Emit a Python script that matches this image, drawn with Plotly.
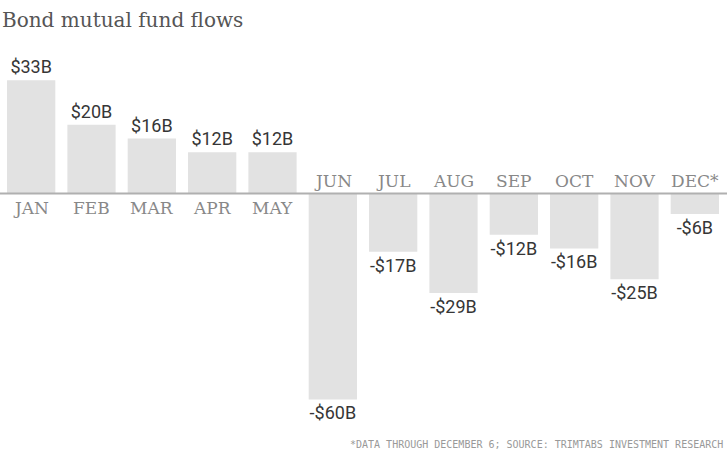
import plotly.graph_objects as go

months = ["JAN", "FEB", "MAR", "APR", "MAY", "JUN", "JUL", "AUG", "SEP", "OCT", "NOV", "DEC*"]
flows = [33, 20, 16, 12, 12, -60, -17, -29, -12, -16, -25, -6]
title = "Bond mutual fund flows"
footnote = "*DATA THROUGH DECEMBER 6; SOURCE: TRIMTABS INVESTMENT RESEARCH"

labels = [("-$%dB" % abs(v)) if v < 0 else ("$%dB" % v) for v in flows]

fig = go.Figure()
fig.add_trace(go.Bar(
    x=months, y=flows, text=labels, textposition="outside",
    marker=dict(color="#e2e2e2", line=dict(width=0)),
    textfont=dict(family="Roboto, sans-serif", size=18, color="#363636"),
    cliponaxis=False, width=0.8, hoverinfo="skip",
))

for m, v in zip(months, flows):
    fig.add_annotation(
        x=m, y=0, text=m, showarrow=False, xref="x", yref="y",
        yshift=-15 if v >= 0 else 12,
        font=dict(family="DejaVu Serif, serif", size=17, color="#888888"),
    )

fig.add_shape(type="line", xref="paper", yref="y", x0=-0.01, x1=1.01, y0=0, y1=0,
              line=dict(color="#b0b0b0", width=2))

fig.add_annotation(
    xref="paper", yref="paper", x=-0.002, y=1.0, xanchor="left", yanchor="middle",
    yshift=19, text=title, showarrow=False,
    font=dict(family="DejaVu Serif, serif", size=20, color="#555555"),
)

fig.add_annotation(
    xref="paper", yref="paper", x=1.0, y=0, xanchor="right", yanchor="middle",
    yshift=-(444 - 420), text=footnote, showarrow=False,
    font=dict(family="DejaVu Sans Mono, monospace", size=10, color="#999999"),
)

fig.update_layout(
    width=727, height=450,
    margin=dict(l=1, r=2, t=39, b=30),
    paper_bgcolor="white", plot_bgcolor="white",
    showlegend=False, bargap=0.2,
    xaxis=dict(visible=False),
    yaxis=dict(visible=False, range=[-66, 45]),
)

fig.write_html("out.html")
